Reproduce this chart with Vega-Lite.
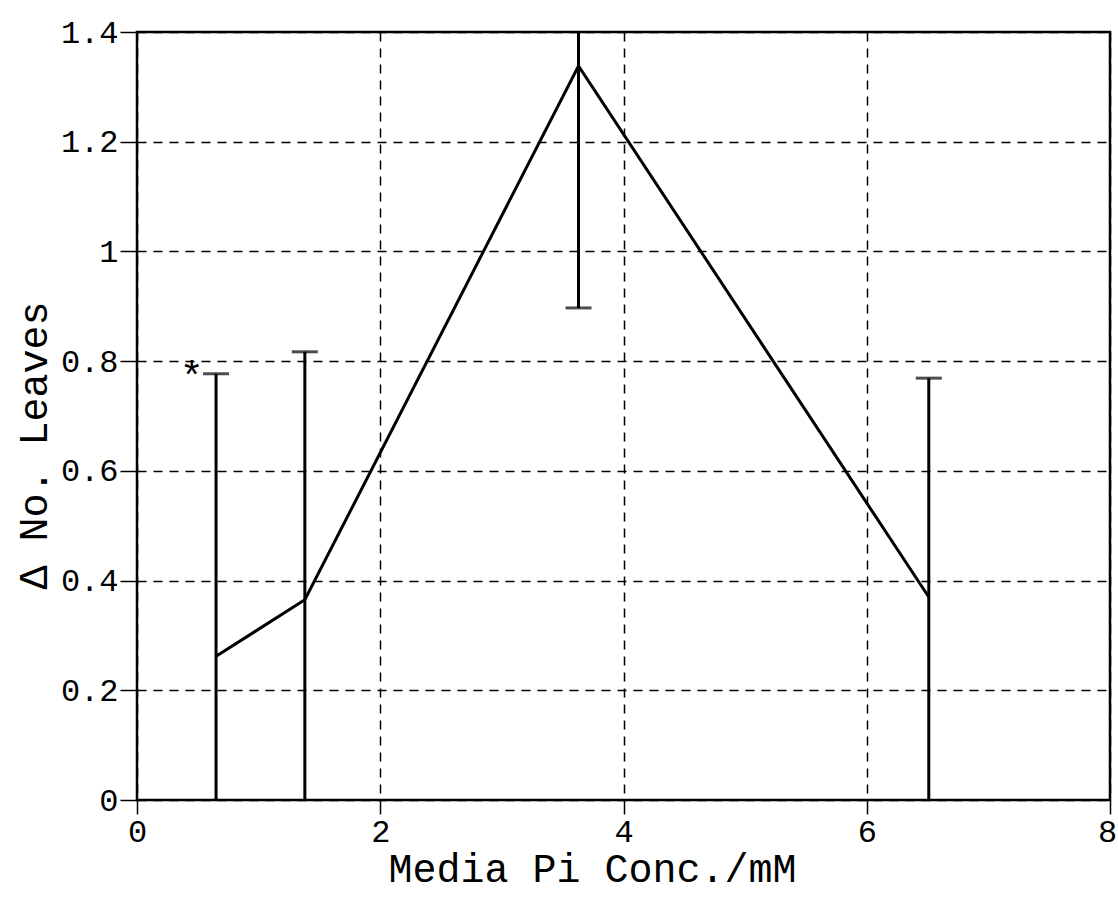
{
  "$schema": "https://vega.github.io/schema/vega-lite/v6.json",
  "width": 973,
  "height": 768,
  "autosize": {"type": "none"},
  "padding": {"left": 137, "top": 32, "right": 8, "bottom": 104},
  "background": "white",
  "config": {
    "view": {"stroke": "black", "strokeWidth": 2.5},
    "font": "Liberation Mono",
    "axis": {
      "domain": false,
      "grid": true,
      "gridColor": "black",
      "gridDash": [9, 7],
      "gridWidth": 1.5,
      "gridOpacity": 1,
      "tickColor": "black",
      "tickWidth": 1.5,
      "labelColor": "black",
      "labelFont": "Liberation Mono",
      "labelFontSize": 32,
      "labelFlush": false,
      "titleColor": "black",
      "titleFont": "Liberation Mono",
      "titleFontSize": 40,
      "titleFontWeight": "normal"
    }
  },
  "datasets": {
    "pts": [
      {"conc": 0.65, "mean": 0.262, "lo": 0, "hi": 0.777},
      {"conc": 1.38, "mean": 0.365, "lo": 0, "hi": 0.817},
      {"conc": 3.63, "mean": 1.338, "lo": 0.897, "hi": 1.4},
      {"conc": 6.51, "mean": 0.37, "lo": 0, "hi": 0.769}
    ],
    "notes": [
      {"conc": 0.45, "val": 0.77, "label": "*"}
    ]
  },
  "layer": [
    {
      "data": {"name": "pts"},
      "mark": {"type": "rule", "color": "black", "strokeWidth": 3},
      "encoding": {
        "x": {
          "field": "conc", "type": "quantitative",
          "scale": {"domain": [0, 8], "nice": false},
          "axis": {
            "values": [0, 2, 4, 6, 8],
            "format": "~g",
            "tickSize": 14,
            "labelPadding": 2,
            "labelOffset": {"condition": {"test": "datum.value == 8", "value": -3}, "value": 0},
            "title": "Media Pi Conc./mM",
            "titlePadding": 2,
            "titleX": 455
          }
        },
        "y": {
          "field": "lo", "type": "quantitative",
          "scale": {"domain": [0, 1.4], "nice": false},
          "axis": {
            "values": [0, 0.2, 0.4, 0.6, 0.8, 1, 1.2, 1.4],
            "format": "~g",
            "tickSize": 17,
            "labelPadding": 2,
            "title": "Δ No. Leaves",
            "titlePadding": 6,
            "titleY": 413
          }
        },
        "y2": {"field": "hi"}
      }
    },
    {
      "data": {"name": "pts"},
      "transform": [{"filter": "datum.hi < 1.4"}],
      "mark": {"type": "tick", "orient": "horizontal", "size": 26, "thickness": 3, "color": "black"},
      "encoding": {
        "x": {"field": "conc", "type": "quantitative"},
        "y": {"field": "hi", "type": "quantitative"}
      }
    },
    {
      "data": {"name": "pts"},
      "transform": [{"filter": "datum.lo > 0"}],
      "mark": {"type": "tick", "orient": "horizontal", "size": 26, "thickness": 3, "color": "black"},
      "encoding": {
        "x": {"field": "conc", "type": "quantitative"},
        "y": {"field": "lo", "type": "quantitative"}
      }
    },
    {
      "data": {"name": "pts"},
      "mark": {"type": "line", "color": "black", "strokeWidth": 3},
      "encoding": {
        "x": {"field": "conc", "type": "quantitative"},
        "y": {"field": "mean", "type": "quantitative"}
      }
    },
    {
      "data": {"name": "notes"},
      "mark": {"type": "text", "font": "Liberation Mono", "fontSize": 40, "color": "black", "baseline": "middle", "align": "center"},
      "encoding": {
        "x": {"field": "conc", "type": "quantitative"},
        "y": {"field": "val", "type": "quantitative"},
        "text": {"field": "label"}
      }
    }
  ]
}
